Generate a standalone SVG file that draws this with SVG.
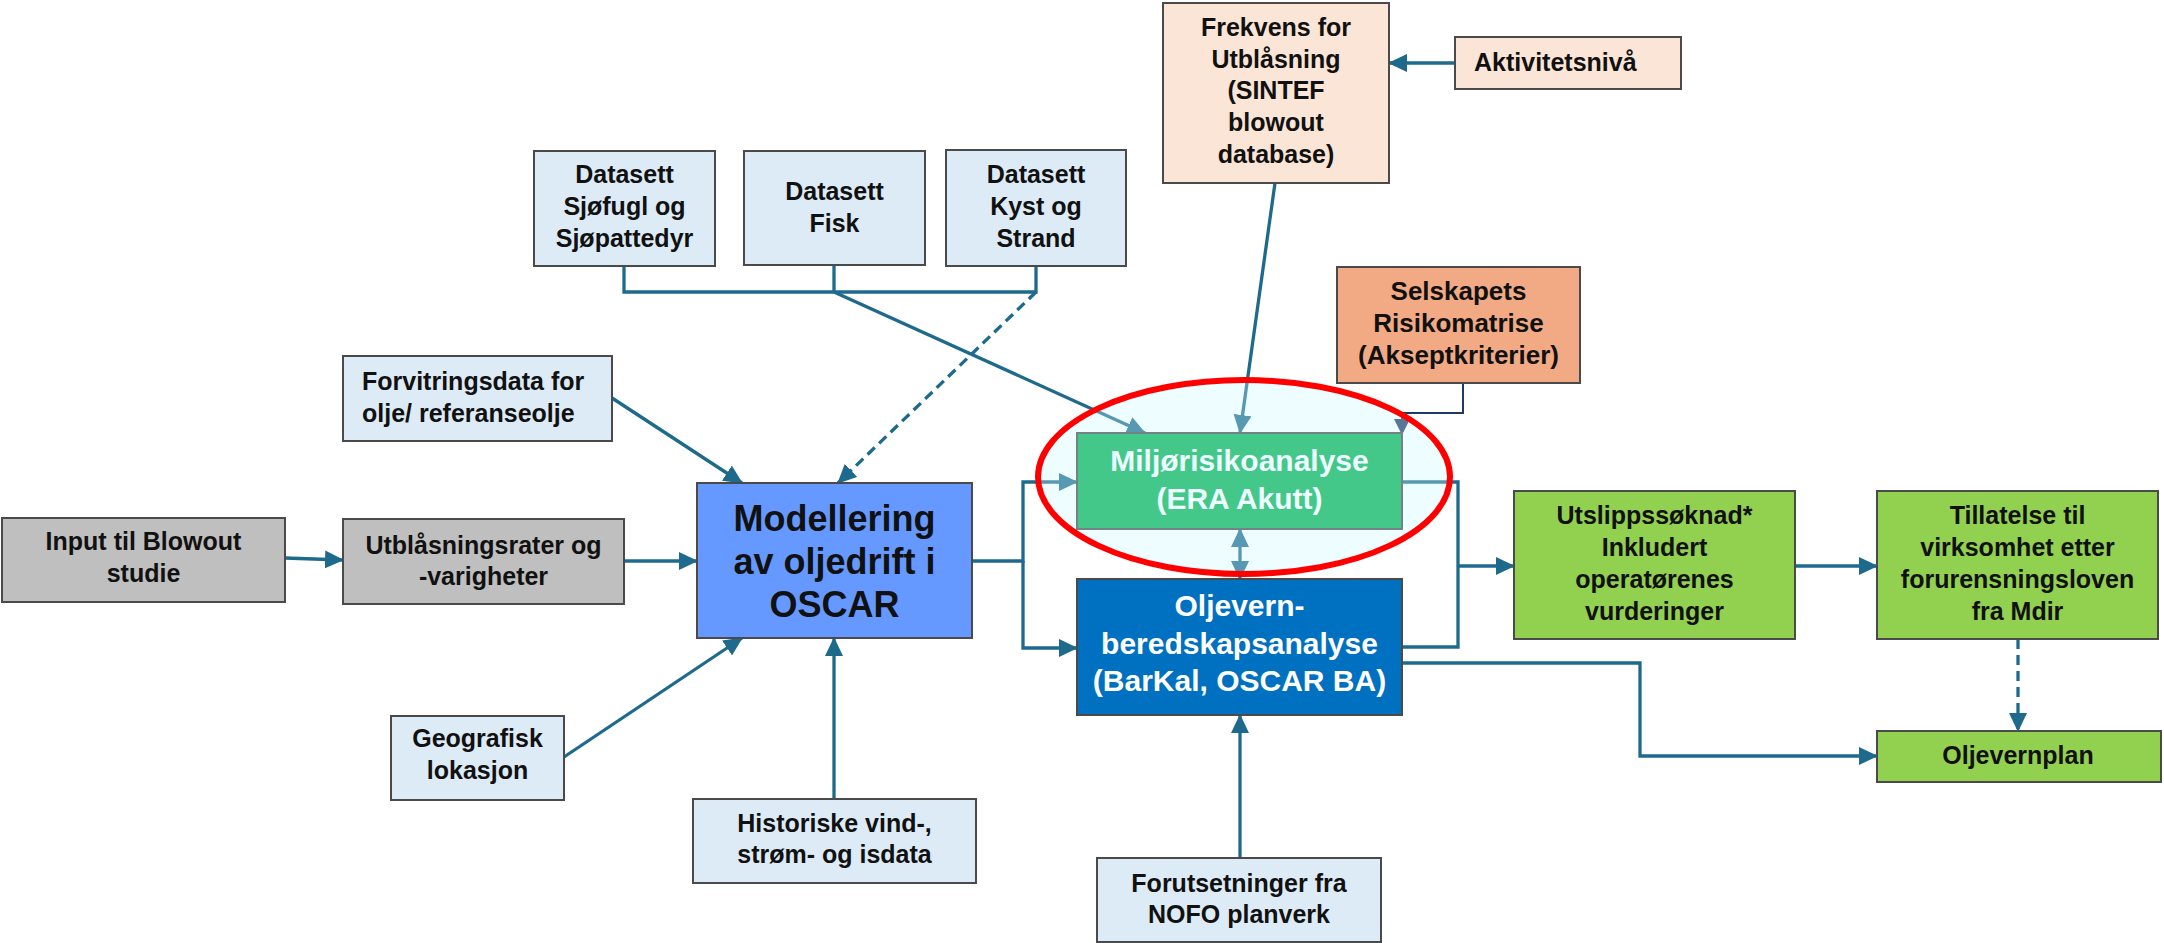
<svg xmlns="http://www.w3.org/2000/svg" width="2164" height="943" viewBox="0 0 2164 943">
<style>
text{font-family:"Liberation Sans",Arial,sans-serif;font-weight:bold;fill:#111;text-anchor:middle}
.t25{font-size:25px}
.t26{font-size:26px}
.t30{font-size:30px}
.t36{font-size:36px}
.w{fill:#fff}
.l{text-anchor:start}
.box{stroke:#4a4a4a;stroke-width:2}
.grey{fill:#bfbfbf}
.lb{fill:#ddebf7}
.peach{fill:#fbe5d6}
.orange{fill:#f2aa84}
.blue{fill:#6699ff}
.dblue{fill:#0070c0}
.green{fill:#92d050}
.era{fill:#00b050}
.c{fill:none;stroke:#1e6a8c;stroke-width:3.3}
.arr{marker-end:url(#ah)}
.dash{stroke-dasharray:10 6}
</style>
<defs>
<marker id="ah" markerUnits="userSpaceOnUse" markerWidth="20" markerHeight="18" refX="18" refY="9" orient="auto">
<path d="M0,0 L19,9 L0,18 z" fill="#1e6a8c"/>
</marker>
<marker id="ahs" markerUnits="userSpaceOnUse" markerWidth="20" markerHeight="18" refX="1" refY="9" orient="auto">
<path d="M19,0 L0,9 L19,18 z" fill="#1e6a8c"/>
</marker>
<marker id="ahn" markerUnits="userSpaceOnUse" markerWidth="17" markerHeight="16" refX="15" refY="8" orient="auto">
<path d="M0,0 L16,8 L0,16 z" fill="#203864"/>
</marker>
</defs>
<rect width="2164" height="943" fill="#fff"/>
<g id="connectors">
<path class="c arr" d="M285,558 L343,560"/>
<path class="c arr" d="M624,561 L697,561"/>
<path class="c arr" d="M612,398 L742,483"/>
<path class="c arr" d="M564,757 L742,638"/>
<path class="c arr" d="M834,799 L834,638"/>
<path class="c" d="M624,266 V292 H1036 V266 M834,265 V292"/>
<path class="c arr" d="M834,292 L1145,433"/>
<path class="c arr dash" d="M1036,292 L838,483"/>
<path class="c arr" d="M1275,183 L1240,433"/>
<path class="c arr" d="M1455,63 L1389,63"/>
<path d="M1463,383 V413 H1402 V434" fill="none" stroke="#203864" stroke-width="2" marker-end="url(#ahn)"/>
<path class="c arr" d="M972,561 H1023 V482 H1077"/>
<path class="c arr" d="M1023,561 V648 H1077"/>
<path class="c arr" d="M1240,529 V579" marker-start="url(#ahs)"/>
<path class="c" d="M1402,482 H1458 V647 H1402"/>
<path class="c arr" d="M1458,566 H1514"/>
<path class="c arr" d="M1402,663 H1640 V756 H1877"/>
<path class="c arr" d="M1795,566 H1877"/>
<path class="c arr dash" d="M2018,639 V731"/>
<path class="c arr" d="M1240,858 V715"/>
</g>
<g id="input-blowout"><rect class="box grey" x="2" y="518" width="283" height="84"/>
<text class="t25" x="143.5" y="550">Input til Blowout</text><text class="t25" x="143.5" y="582">studie</text></g>
<g id="utblasningsrater"><rect class="box grey" x="343" y="519" width="281" height="85"/>
<text class="t25" x="483.5" y="554">Utblåsningsrater og</text><text class="t25" x="483.5" y="585">-varigheter</text></g>
<g id="forvitringsdata"><rect class="box lb" x="343" y="356" width="269" height="85"/>
<text class="t25 l" x="362" y="390">Forvitringsdata for</text><text class="t25 l" x="362" y="422">olje/ referanseolje</text></g>
<g id="geografisk"><rect class="box lb" x="391" y="716" width="173" height="84"/>
<text class="t25" x="477.5" y="747">Geografisk</text><text class="t25" x="477.5" y="779">lokasjon</text></g>
<g id="datasett-sjofugl"><rect class="box lb" x="534" y="151" width="181" height="115"/>
<text class="t25" x="624.5" y="183">Datasett</text><text class="t25" x="624.5" y="215">Sjøfugl og</text><text class="t25" x="624.5" y="247">Sjøpattedyr</text></g>
<g id="datasett-fisk"><rect class="box lb" x="744" y="151" width="181" height="114"/>
<text class="t25" x="834.5" y="200">Datasett</text><text class="t25" x="834.5" y="232">Fisk</text></g>
<g id="datasett-kyst"><rect class="box lb" x="946" y="150" width="180" height="116"/>
<text class="t25" x="1036" y="183">Datasett</text><text class="t25" x="1036" y="215">Kyst og</text><text class="t25" x="1036" y="247">Strand</text></g>
<g id="frekvens"><rect class="box peach" x="1163" y="3" width="226" height="180"/>
<text class="t25" x="1276" y="36">Frekvens for</text><text class="t25" x="1276" y="68">Utblåsning</text><text class="t25" x="1276" y="99">(SINTEF</text><text class="t25" x="1276" y="131">blowout</text><text class="t25" x="1276" y="163">database)</text></g>
<g id="aktivitetsniva"><rect class="box peach" x="1455" y="37" width="226" height="52"/>
<text class="t25 l" x="1474" y="71">Aktivitetsnivå</text></g>
<g id="selskapets"><rect class="box orange" x="1337" y="267" width="243" height="116"/>
<text class="t26" x="1458.5" y="300">Selskapets</text><text class="t26" x="1458.5" y="332">Risikomatrise</text><text class="t26" x="1458.5" y="364">(Akseptkriterier)</text></g>
<g id="modellering"><rect class="box blue" x="697" y="483" width="275" height="155"/>
<text class="t36" x="834.5" y="531">Modellering</text><text class="t36" x="834.5" y="574">av oljedrift i</text><text class="t36" x="834.5" y="617">OSCAR</text></g>
<g id="historiske"><rect class="box lb" x="693" y="799" width="283" height="84"/>
<text class="t25" x="834.5" y="832">Historiske vind-,</text><text class="t25" x="834.5" y="863">strøm- og isdata</text></g>
<g id="miljorisiko"><rect class="box era" x="1077" y="433" width="325" height="96"/>
<text class="t30 w" x="1239.5" y="471">Miljørisikoanalyse</text><text class="t30 w" x="1239.5" y="509">(ERA Akutt)</text></g>
<g id="oljevern"><rect class="box dblue" x="1077" y="579" width="325" height="136"/>
<text class="t30 w" x="1239.5" y="616">Oljevern-</text><text class="t30 w" x="1239.5" y="654">beredskapsanalyse</text><text class="t30 w" x="1239.5" y="691">(BarKal, OSCAR BA)</text></g>
<g id="forutsetninger"><rect class="box lb" x="1097" y="858" width="284" height="84"/>
<text class="t25" x="1239" y="892">Forutsetninger fra</text><text class="t25" x="1239" y="923">NOFO planverk</text></g>
<g id="utslippssoknad"><rect class="box green" x="1514" y="491" width="281" height="148"/>
<text class="t25" x="1654.5" y="524">Utslippssøknad*</text><text class="t25" x="1654.5" y="556">Inkludert</text><text class="t25" x="1654.5" y="588">operatørenes</text><text class="t25" x="1654.5" y="620">vurderinger</text></g>
<g id="tillatelse"><rect class="box green" x="1877" y="491" width="281" height="148"/>
<text class="t25" x="2017.5" y="524">Tillatelse til</text><text class="t25" x="2017.5" y="556">virksomhet etter</text><text class="t25" x="2017.5" y="588">forurensningsloven</text><text class="t25" x="2017.5" y="620">fra Mdir</text></g>
<g id="oljevernplan"><rect class="box green" x="1877" y="731" width="284" height="51"/>
<text class="t25" x="2018" y="764">Oljevernplan</text></g>
<g id="highlight">
<ellipse cx="1244" cy="477" rx="206" ry="97" fill="#ccfaff" fill-opacity="0.33"/>
<ellipse cx="1244" cy="477" rx="206" ry="97" fill="none" stroke="#ff0000" stroke-width="6"/>
</g>
</svg>
